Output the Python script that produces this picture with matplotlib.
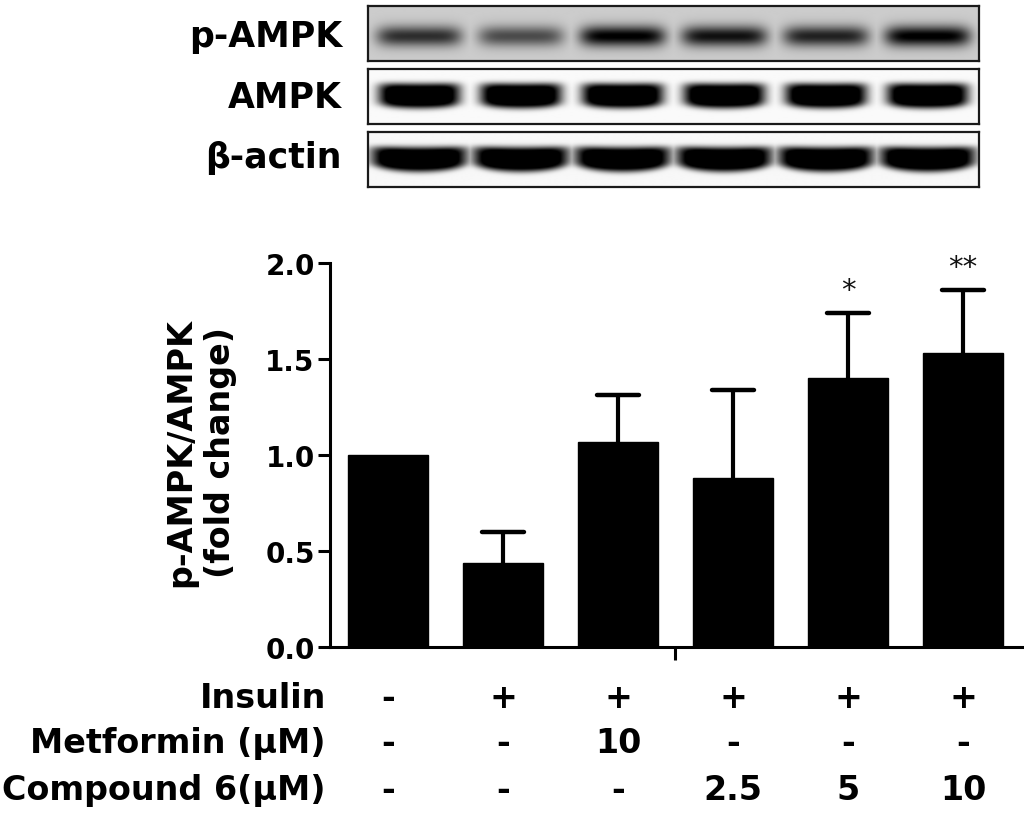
import numpy as np
import matplotlib
matplotlib.use("Agg")
import matplotlib.pyplot as plt
import matplotlib.transforms as mtransforms

# ---------------- data ----------------
groups = ["Control", "Insulin", "Ins+Metformin 10", "Ins+Cpd6 2.5", "Ins+Cpd6 5", "Ins+Cpd6 10"]
fold_change = [1.00, 0.44, 1.07, 0.88, 1.40, 1.53]
sem_upper = [0.00, 0.16, 0.24, 0.46, 0.34, 0.33]
significance = ["", "", "", "", "*", "**"]

row_labels = ["Insulin", "Metformin (\u03bcM)", "Compound 6(\u03bcM)"]
insulin_row = ["-", "+", "+", "+", "+", "+"]
metformin_row = ["-", "-", "10", "-", "-", "-"]
compound_row = ["-", "-", "-", "2.5", "5", "10"]

yticks = [0.0, 0.5, 1.0, 1.5, 2.0]
ytick_labels = ["0.0", "0.5", "1.0", "1.5", "2.0"]
ylabel = "p-AMPK/AMPK\n(fold change)"

blot_labels = ["p-AMPK", "AMPK", "\u03b2-actin"]
pampk_band = [0.74, 0.60, 0.97, 0.88, 0.80, 0.98]
ampk_band = [1.0, 1.0, 1.0, 1.0, 1.0, 1.0]
actin_band = [1.0, 1.0, 1.0, 1.0, 1.0, 1.0]

FONT = "DejaVu Sans"
plt.rcParams["font.family"] = [FONT]

fig = plt.figure(figsize=(10.24, 8.28), dpi=100)
W, H = 1024.0, 828.0


def fx(px):
    return px / W


def fy(py):
    return 1 - py / H


# ---------------- blot panels ----------------
def blot_image(intensity, bg, yc, half_w, half_h, ypow, gain, smile, nx=612, ny=56):
    x = np.linspace(-0.5, 5.5, nx)
    y = np.linspace(0.0, 1.0, ny)
    X, Y = np.meshgrid(x, y)
    dark = np.zeros_like(X)
    for i, a in enumerate(intensity):
        dx = X - i
        f_x = np.exp(-np.abs(dx / half_w) ** 6)
        bulge = 1 - np.clip((dx / half_w) ** 2, 0, 1)
        centre = yc + smile * bulge
        hh = half_h + 0.6 * smile * bulge
        f_y = np.exp(-np.abs((Y - centre) / hh) ** ypow)
        dark = np.maximum(dark, gain * a * f_x * f_y)
    dark = np.clip(dark, 0, 1)
    return bg * (1 - dark)


blot_boxes = [(7, 62), (70, 125), (133, 188)]
blot_left, blot_right = 368, 979
blot_params = [
    dict(intensity=pampk_band, bg=0.80, yc=0.55, half_w=0.42, half_h=0.19, ypow=2, gain=1.05, smile=0.0),
    dict(intensity=ampk_band, bg=0.98, yc=0.46, half_w=0.40, half_h=0.21, ypow=4, gain=1.35, smile=0.03),
    dict(intensity=actin_band, bg=0.97, yc=0.44, half_w=0.47, half_h=0.19, ypow=4, gain=1.35, smile=0.06),
]
label_baselines = [47, 108, 168]

for (top, bot), params, lab, bl in zip(blot_boxes, blot_params, blot_labels, label_baselines):
    bax = fig.add_axes([fx(blot_left), fy(bot), fx(blot_right) - fx(blot_left), (bot - top) / H])
    img = blot_image(**params)
    bax.imshow(img, cmap="gray", vmin=0, vmax=1, extent=(-0.5, 5.5, 1, 0),
               aspect="auto", interpolation="bilinear")
    bax.set_xlim(-0.5, 5.5)
    bax.set_ylim(1, 0)
    bax.set_xticks([])
    bax.set_yticks([])
    for s in bax.spines.values():
        s.set_linewidth(1.6)
        s.set_color("#1a1a1a")
    fig.text(fx(342), fy(bl), lab, ha="right", va="baseline",
             fontsize=25, fontweight="bold", family=[FONT])

# ---------------- bar chart ----------------
ax = fig.add_axes([fx(330), fy(648), fx(1022) - fx(330), (648 - 264) / H])
x = np.arange(len(groups))
means = np.array(fold_change)
tops = means + np.array(sem_upper)
ax.bar(x, means, width=0.70, color="black", edgecolor="black", zorder=3)
has_err = np.array(sem_upper) > 0
ax.vlines(x[has_err], means[has_err], tops[has_err], color="black", linewidth=3.0, zorder=2)
ax.hlines(tops[has_err], x[has_err] - 0.18, x[has_err] + 0.18, color="black",
          linewidth=3.2, zorder=2, capstyle="round")

for i, s in enumerate(significance):
    if s:
        ax.annotate(s, xy=(x[i], tops[i]), xytext=(0, 11),
                    textcoords="offset points", ha="center", va="baseline",
                    fontsize=21, color="#111111", annotation_clip=False)

ax.set_xlim(-0.504, 5.513)
ax.set_ylim(0, 2.0)
ax.set_yticks(yticks)
ax.set_yticklabels(ytick_labels, fontsize=20, fontweight="bold")
ax.set_xticks([2.5])
ax.set_xticklabels([""])
ax.tick_params(axis="y", direction="out", length=9, width=2.2, pad=2)
ax.tick_params(axis="x", direction="out", length=9, width=2.2)
for side in ["top", "right"]:
    ax.spines[side].set_visible(False)
for side in ["left", "bottom"]:
    ax.spines[side].set_linewidth(2.2)

fig.text(fx(201), fy(453), ylabel, rotation=90, ha="center", va="center",
         multialignment="center", fontsize=24, fontweight="bold", linespacing=1.25)

# ---------------- treatment table ----------------
trans = mtransforms.blended_transform_factory(ax.transData, fig.transFigure)
row_baselines = [708, 753, 800]
for lab, row, bl in zip(row_labels, [insulin_row, metformin_row, compound_row], row_baselines):
    fig.text(fx(326), fy(bl), lab, ha="right", va="baseline",
             fontsize=24, fontweight="bold")
    for i, v in enumerate(row):
        ax.text(x[i], fy(bl), v, transform=trans, ha="center", va="baseline",
                fontsize=24, fontweight="bold", clip_on=False)

fig.savefig("out.png", dpi=100, facecolor="white")
